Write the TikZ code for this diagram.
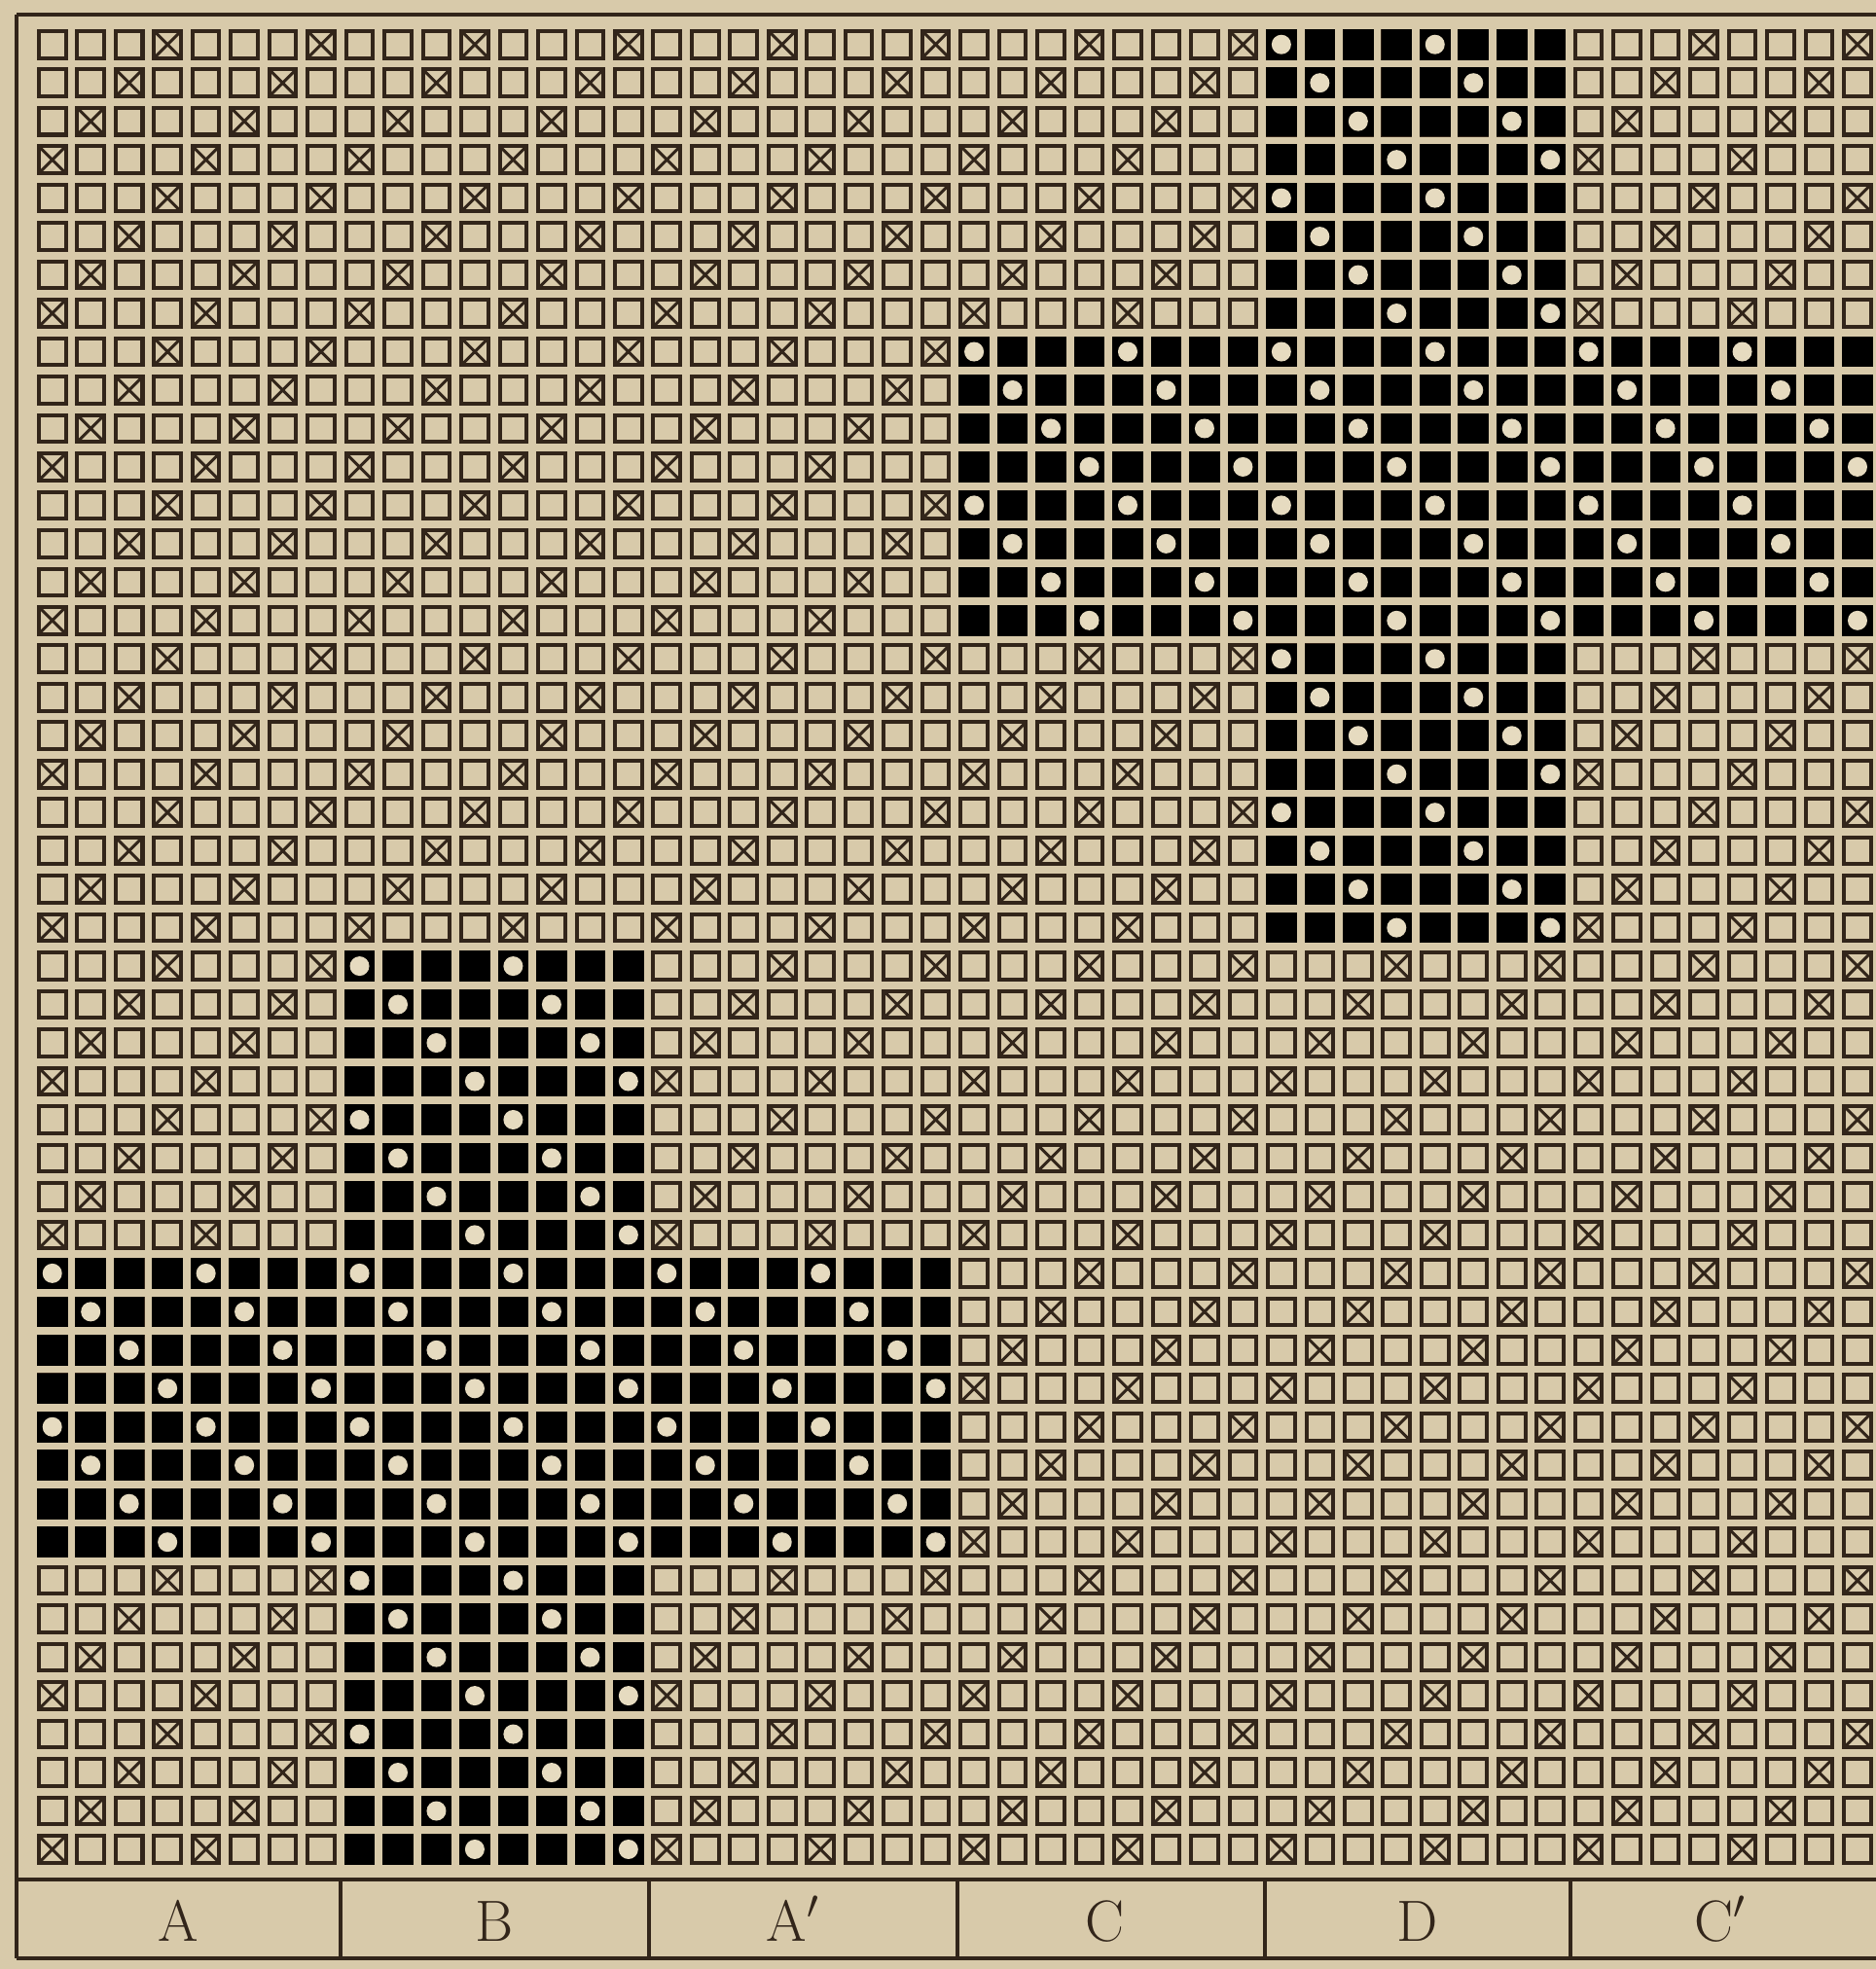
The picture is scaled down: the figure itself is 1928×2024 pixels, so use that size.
\documentclass[tikz,border=0pt]{standalone}
\usepackage{tikz}

\definecolor{paper}{RGB}{216,202,170}
\definecolor{ink}{RGB}{50,37,26}
\definecolor{solid}{RGB}{40,26,18}
\definecolor{spot}{RGB}{230,219,192}

\begin{document}
\begin{tikzpicture}[x=0.01cm, y=-0.01cm]
        % Paper
        \fill[paper] (0,0) rectangle (1928,2024);
        \useasboundingbox (0,0) rectangle (1928,2024);

        % Outer frame and label strip
        \draw[ink, line width=0.045cm] (17,15) -- (1928,15);
        \draw[ink, line width=0.045cm] (17,15) -- (17,2013);
        \draw[ink, line width=0.045cm] (17,1932) -- (1928,1932);
        \draw[ink, line width=0.045cm] (17,2013) -- (1928,2013);
        \foreach \x in {350,667,984,1300,1614}
            \draw[ink, line width=0.035cm] (\x,1932) -- (\x,2013);

        % Squares, cell (c,r) spans (c-1,r-1) -- (c,r)
        \begin{scope}[shift={(34,26)}, x=0.3945cm, y=-0.3945cm]
            \foreach \r in {1,...,48}
                \foreach \c in {1,...,48} {
                    \draw[ink, line width=0.04cm] (\c-0.85,\r-0.85) rectangle (\c-0.15,\r-0.15);
                    \pgfmathtruncatemacro{\tw}{mod(\r+\c,4)}
                    \ifnum\tw=1
                        \draw[ink, line width=0.03cm] (\c-0.85,\r-0.85) -- (\c-0.15,\r-0.15)
                            (\c-0.85,\r-0.15) -- (\c-0.15,\r-0.85);
                    \fi
                }

            % Solid crosses with dots
            \foreach \ca/\cb/\ra/\rb in {33/40/1/24, 25/48/9/16, 9/16/25/48, 1/24/33/40}
                \foreach \c in {\ca,...,\cb}
                    \foreach \r in {\ra,...,\rb} {
                        \fill[solid] (\c-0.9,\r-0.9) rectangle (\c-0.1,\r-0.1);
                        \pgfmathtruncatemacro{\bd}{mod(\c-\r+48,4)}
                        \ifnum\bd=0
                            \fill[spot] (\c-0.5,\r-0.5) circle[radius=0.1cm];
                        \fi
                    }
        \end{scope}

        % Labels
        \node[anchor=base, text=ink, font=\fontsize{17}{20}\selectfont] (labA) at (183,1995) {A};
        \node[anchor=base, text=ink, font=\fontsize{17}{20}\selectfont] (labB) at (508,1995) {B};
        \node[anchor=base, text=ink, font=\fontsize{17}{20}\selectfont] (labAp) at (815,1995) {A$'$};
        \node[anchor=base, text=ink, font=\fontsize{17}{20}\selectfont] (labC) at (1135,1995) {C};
        \node[anchor=base, text=ink, font=\fontsize{17}{20}\selectfont] (labD) at (1457,1995) {D};
        \node[anchor=base, text=ink, font=\fontsize{17}{20}\selectfont] (labCp) at (1768,1995) {C$'$};
\end{tikzpicture}
\end{document}
